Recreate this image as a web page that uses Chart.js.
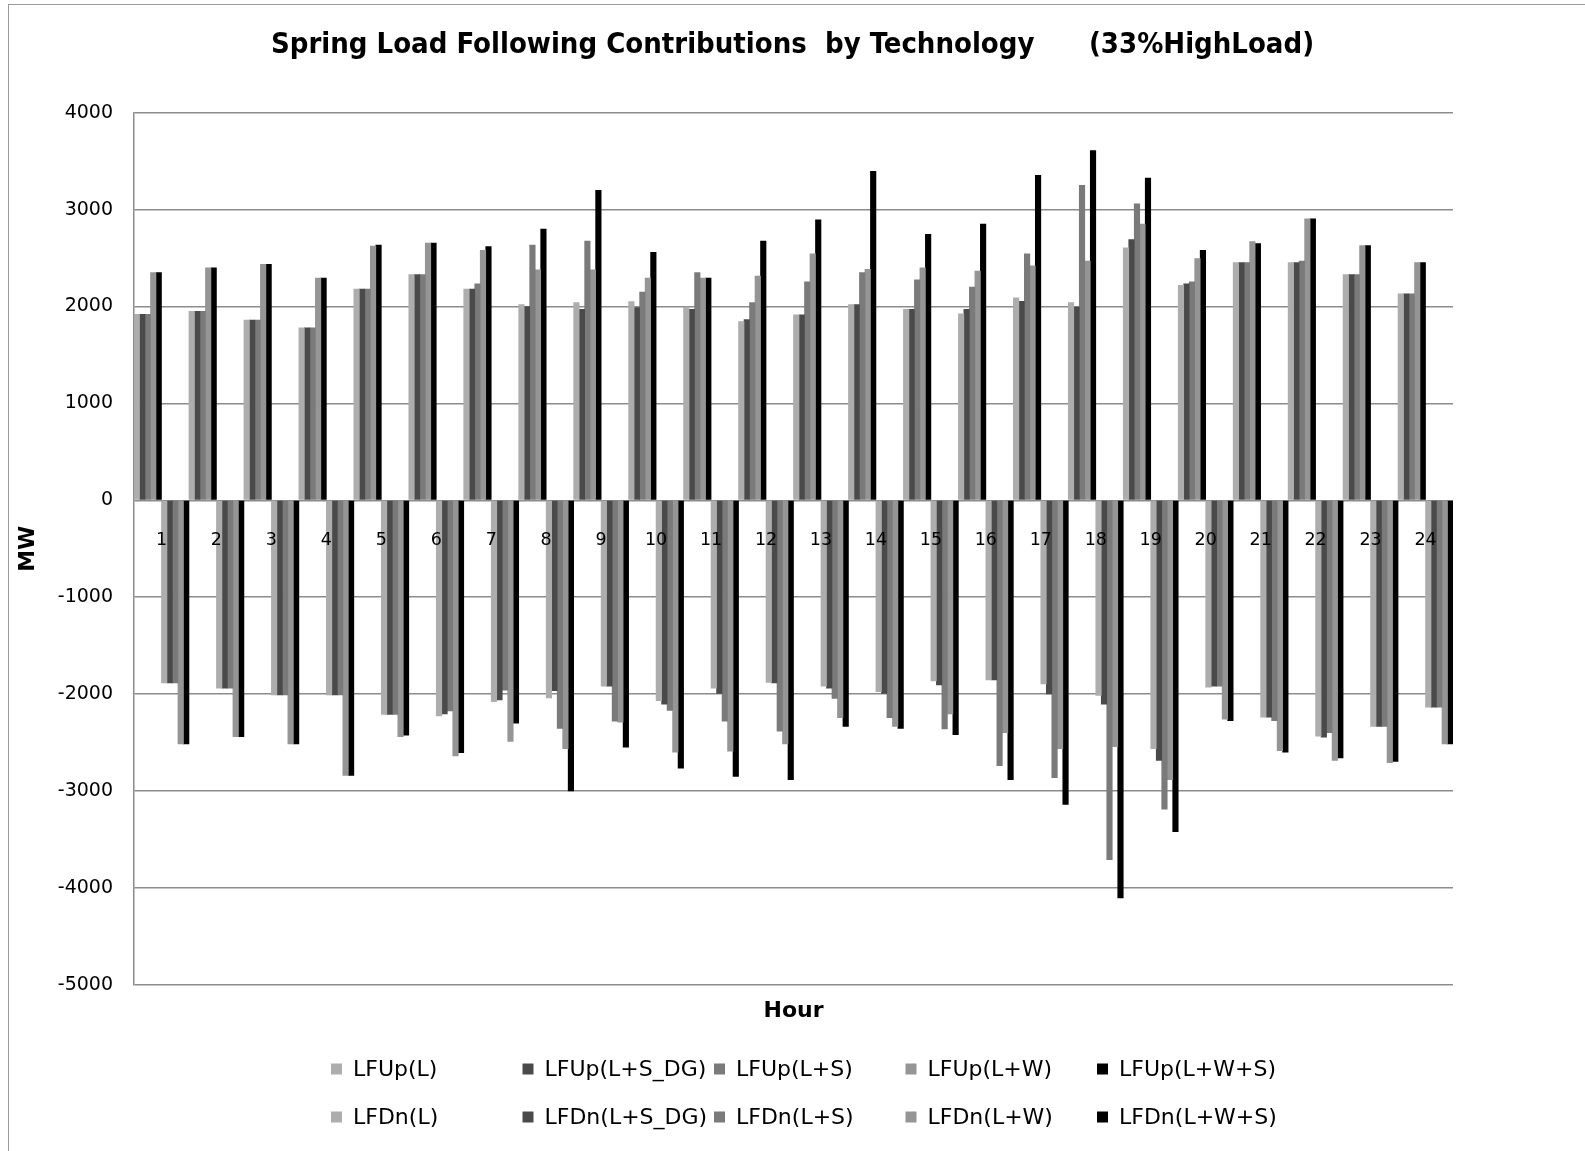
<!DOCTYPE html>
<html>
<head>
<meta charset="utf-8">
<script src="https://cdn.jsdelivr.net/npm/chart.js@4.4.1/dist/chart.umd.min.js"></script>
<style>
  body { margin: 0; background: #fff; }
  #wrap { position: relative; width: 1585px; height: 1151px; }
  #frame {
    position: absolute; left: 8px; top: 4px; right: -10px; bottom: -10px;
    border-left: 1.5px solid #9a9a9a; border-top: 1.5px solid #9a9a9a;
    pointer-events: none;
  }
</style>
</head>
<body>
<div id="wrap">
  <canvas id="LoadChart" width="1585" height="1151"></canvas>
  <div id="frame"></div>
</div>
<script>
const hours = ["1", "2", "3", "4", "5", "6", "7", "8", "9", "10", "11", "12",
  "13", "14", "15", "16", "17", "18", "19", "20", "21", "22", "23", "24"];

const seriesNames = ["LFUp(L)", "LFUp(L+S_DG)", "LFUp(L+S)", "LFUp(L+W)", "LFUp(L+W+S)",
  "LFDn(L)", "LFDn(L+S_DG)", "LFDn(L+S)", "LFDn(L+W)", "LFDn(L+W+S)"];

// up contributions (MW)
const upL    = [1920, 1950, 1860, 1780, 2180, 2330, 2180, 2020, 2040, 2050, 1995, 1845, 1915, 2020, 1970, 1925, 2090, 2040, 2605, 2220, 2455, 2455, 2330, 2130];
const upLSDG = [1920, 1950, 1860, 1780, 2180, 2330, 2180, 2000, 1970, 1990, 1970, 1865, 1915, 2020, 1970, 1970, 2055, 1995, 2690, 2235, 2455, 2455, 2330, 2130];
const upLS   = [1920, 1950, 1860, 1780, 2180, 2330, 2235, 2635, 2675, 2150, 2350, 2040, 2255, 2350, 2275, 2200, 2545, 3250, 3060, 2255, 2455, 2470, 2330, 2130];
const upLW   = [2350, 2400, 2435, 2295, 2625, 2655, 2580, 2380, 2380, 2295, 2295, 2315, 2545, 2385, 2400, 2365, 2420, 2470, 2850, 2495, 2670, 2905, 2630, 2455];
const upLWS  = [2350, 2400, 2435, 2295, 2635, 2655, 2620, 2800, 3200, 2560, 2295, 2675, 2895, 3395, 2745, 2850, 3355, 3610, 3325, 2580, 2650, 2905, 2630, 2455];

// down contributions (MW)
const dnL    = [-1885, -1940, -2010, -2010, -2210, -2225, -2080, -2040, -1920, -2070, -1940, -1880, -1920, -1975, -1865, -1855, -1895, -2015, -2565, -1930, -2240, -2435, -2335, -2135];
const dnLSDG = [-1885, -1940, -2010, -2010, -2210, -2205, -2060, -1965, -1920, -2105, -1995, -1885, -1940, -1995, -1905, -1855, -2000, -2105, -2685, -1920, -2240, -2445, -2335, -2135];
const dnLS   = [-1885, -1940, -2010, -2010, -2210, -2175, -1960, -2355, -2280, -2170, -2280, -2385, -2045, -2245, -2360, -2740, -2865, -3710, -3190, -1920, -2275, -2400, -2335, -2135];
const dnLW   = [-2515, -2440, -2515, -2840, -2440, -2640, -2490, -2565, -2290, -2600, -2590, -2515, -2245, -2335, -2205, -2400, -2565, -2545, -2885, -2260, -2585, -2685, -2710, -2515];
const dnLWS  = [-2515, -2440, -2515, -2840, -2425, -2605, -2300, -3000, -2550, -2765, -2850, -2885, -2335, -2355, -2420, -2885, -3140, -4105, -3420, -2275, -2600, -2660, -2695, -2515];

const yTicks = [-5000, -4000, -3000, -2000, -1000, 0, 1000, 2000, 3000, 4000];

const seriesData = [upL, upLSDG, upLS, upLW, upLWS, dnL, dnLSDG, dnLS, dnLW, dnLWS];
const grays = ["#adadad", "#4a4a4a", "#7a7a7a", "#959595", "#000000"];

Chart.defaults.font.family = "'DejaVu Sans', sans-serif";
Chart.defaults.color = "#000";

// legend in two rows of five, like the spreadsheet one
const gridLegend = {
  id: "gridLegend",
  afterDraw(chart, args, opts) {
    const ctx = chart.ctx;
    ctx.save();
    ctx.font = opts.font;
    ctx.textBaseline = "middle";
    ctx.textAlign = "left";
    chart.data.datasets.forEach((ds, i) => {
      const col = i % 5;
      const row = Math.floor(i / 5);
      const x = opts.left + col * opts.colWidth;
      const y = opts.top + row * opts.rowHeight;
      ctx.fillStyle = ds.backgroundColor;
      ctx.fillRect(x, y - opts.box / 2, opts.box, opts.box);
      ctx.fillStyle = "#000";
      ctx.fillText(ds.label, x + opts.box + 11, y + 1);
    });
    ctx.restore();
  },
};

const ctx = document.getElementById("LoadChart").getContext("2d");
new Chart(ctx, {
  type: "bar",
  data: {
    labels: hours,
    datasets: seriesNames.map((name, i) => ({
      label: name,
      data: seriesData[i],
      backgroundColor: grays[i % 5],
      borderWidth: 0,
      categoryPercentage: 1.0,
      barPercentage: 1.0,
    })),
  },
  options: {
    responsive: false,
    animation: false,
    layout: { padding: { left: 0, right: 0, top: 0, bottom: 118 } },
    plugins: {
      legend: { display: false },
      tooltip: { enabled: false },
      title: {
        display: true,
        text: "Spring Load Following Contributions  by Technology      (33%HighLoad)",
        font: { family: "'DejaVu Sans Condensed', 'DejaVu Sans', sans-serif", size: 29, weight: "bold" },
        color: "#000",
        padding: { top: 28, bottom: 50 },
      },
      gridLegend: {
        font: "22px 'DejaVu Sans', sans-serif",
        left: 331,
        colWidth: 191.5,
        top: 1069,
        rowHeight: 48,
        box: 11,
      },
    },
    scales: {
      x: {
        type: "category",
        position: { y: 0 },
        grid: { display: false, drawTicks: false },
        border: { display: false },
        ticks: {
          z: 1, // hour numbers sit on top of the bars
          font: { size: 17.5 },
          color: "#000",
          padding: 30,
          maxRotation: 0,
          autoSkip: false,
        },
      },
      x2: {
        type: "category",
        position: "bottom",
        grid: { display: false, drawTicks: false },
        border: { display: false },
        ticks: { display: false },
        title: {
          display: true,
          text: "Hour",
          font: { size: 22, weight: "bold" },
          color: "#000",
          padding: { top: 13, bottom: 9 },
        },
      },
      y: {
        min: yTicks[0],
        max: yTicks[yTicks.length - 1],
        afterBuildTicks: (scale) => { scale.ticks = yTicks.map((v) => ({ value: v })); },
        grid: { color: "#8c8c8c", lineWidth: 1.5, drawTicks: false },
        border: { display: true, color: "#8c8c8c", width: 1.5 },
        ticks: {
          font: { size: 19 },
          color: "#000",
          padding: 21,
          callback: (v) => String(v),
        },
        title: {
          display: true,
          text: "MW",
          font: { size: 22, weight: "bold" },
          color: "#000",
          padding: { top: 15, bottom: 0 },
        },
        afterFit: (scale) => { scale.width = 134; },
      },
      // empty right margin, keeps the title centred on the whole page
      yRight: {
        position: "right",
        grid: { display: false, drawTicks: false },
        border: { display: false },
        ticks: { display: false },
        afterFit: (scale) => { scale.width = 132; },
      },
    },
  },
  plugins: [gridLegend],
});
</script>
</body>
</html>
